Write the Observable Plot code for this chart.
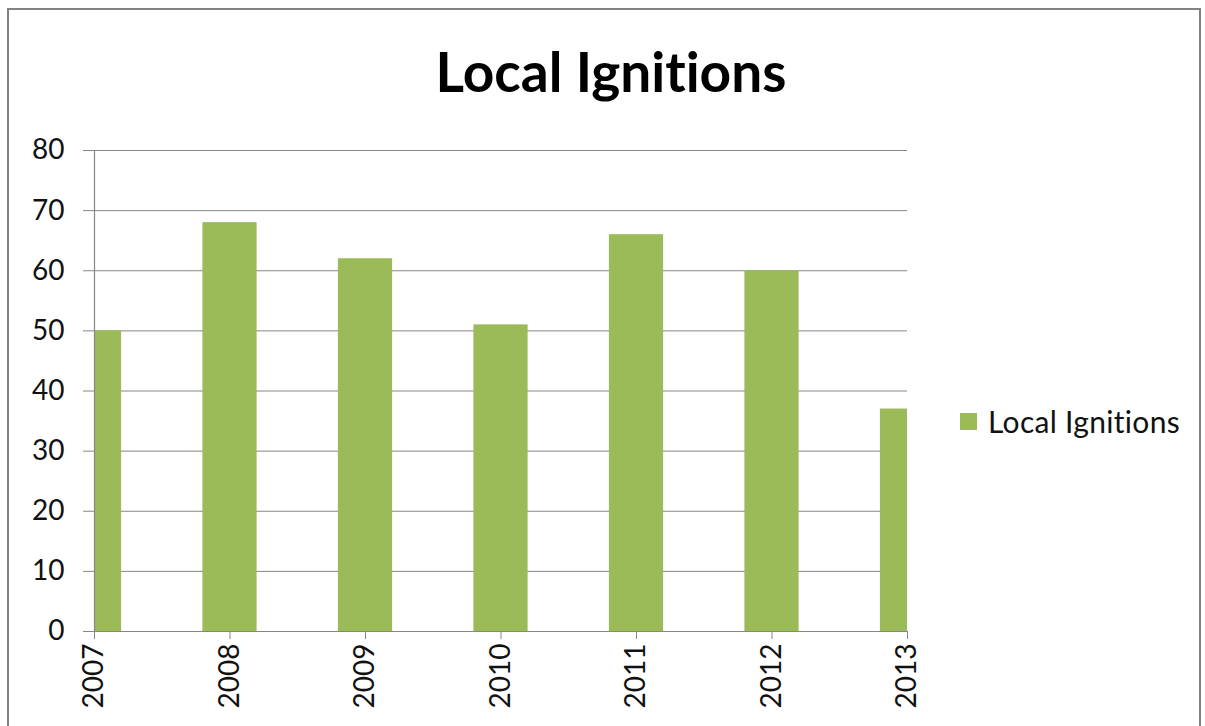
<!DOCTYPE html>
<html>
<head>
<meta charset="utf-8">
<script src="https://cdn.jsdelivr.net/npm/d3@7"></script>
<script src="https://cdn.jsdelivr.net/npm/@observablehq/plot@0.6"></script>
<style>
  html, body { margin: 0; padding: 0; background: #fff; }
  #wrap { position: relative; width: 1205px; height: 726px; overflow: hidden; font-family: Lato, "Open Sans", sans-serif; font-variant-ligatures: none; font-feature-settings: "liga" 0, "clig" 0; }
  #frame { position: absolute; left: 7px; top: 8px; width: 1194px; height: 740px; border: 2px solid #828282; box-sizing: border-box; }
  #title { position: absolute; left: 0; width: 1222px; top: 38px; text-align: center; font-size: 55px; font-weight: bold; color: #000; line-height: 1.2; }
  #legend { position: absolute; left: 960px; top: 403px; font-size: 30px; color: #111; display: flex; align-items: center; line-height: 1.2; letter-spacing: 0.3px; }
  #legend .sw { width: 17px; height: 17px; background: #9BBB59; margin-right: 11px; }
  #chart { position: absolute; left: 0; top: 0; }
</style>
</head>
<body>
<div id="wrap">
  <div id="frame"></div>
  <div id="chart"></div>
  <div id="title">Local Ignitions</div>
  <div id="legend"><div class="sw"></div><span>Local Ignitions</span></div>
</div>
<script>
const years = [2007, 2008, 2009, 2010, 2011, 2012, 2013];
const ignitions = [50, 68, 62, 51, 66, 60, 37];
const yTicks = [0, 10, 20, 30, 40, 50, 60, 70, 80];
const seriesName = "Local Ignitions";

const data = years.map((y, i) => ({year: y, value: ignitions[i]}));
const halfBar = 0.2;

const chart = Plot.plot({
  width: 1205,
  height: 726,
  marginLeft: 94,
  marginRight: 298,
  marginTop: 150,
  marginBottom: 95,
  style: {fontFamily: "Lato, 'Open Sans', sans-serif", background: "transparent", color: "#000"},
  x: {type: "linear", domain: [2007, 2013]},
  y: {domain: [0, 80]},
  marks: [
    Plot.gridY(yTicks, {stroke: "#868686", strokeOpacity: 1, strokeWidth: 1}),
    Plot.rectY(data, {x1: d => d.year - halfBar, x2: d => d.year + halfBar, y: "value", fill: "#9BBB59", clip: true}),
    Plot.ruleX([2007], {stroke: "#868686", strokeWidth: 1.2}),
    Plot.ruleY([0], {stroke: "#868686", strokeWidth: 1.2}),
    Plot.axisY({ticks: yTicks, tickSize: 11, tickPadding: 19, stroke: "#868686", fontSize: 28, fill: "#111", tickFormat: d => String(d), label: null}),
    Plot.axisX({ticks: years, tickSize: 8, tickPadding: 4, tickRotate: -90, stroke: "#868686", fontSize: 28, fill: "#111", tickFormat: d => String(d), label: null})
  ]
});
document.getElementById("chart").appendChild(chart);
</script>
</body>
</html>
